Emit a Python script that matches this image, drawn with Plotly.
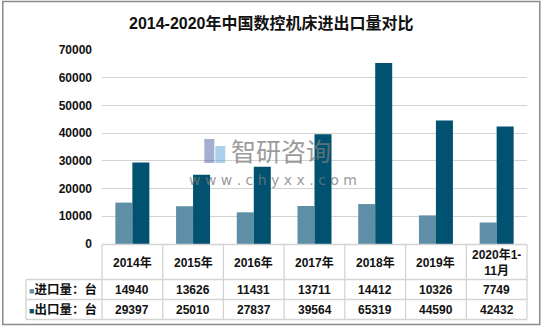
import plotly.graph_objects as go

# ---- data ----
categories = ["2014年", "2015年", "2016年", "2017年", "2018年", "2019年", "2020年1-<br>11月"]
import_units = [14940, 13626, 11431, 13711, 14412, 10326, 7749]
export_units = [29397, 25010, 27837, 39564, 65319, 44590, 42432]
series_names = ["进口量：台", "出口量：台"]
y_ticks = [0, 10000, 20000, 30000, 40000, 50000, 60000, 70000]

IMPORT_COLOR = "#5E8FA6"
EXPORT_COLOR = "#005270"
GRID = "#D3D3D3"
TEXT = "#111111"
FONT = "Liberation Sans, Arial, Noto Sans CJK SC, sans-serif"

W, H = 543, 329
L, R, T, B = 101.7, 526.7, 50, 244  # plot area in pixels


def px_x(p):
    return (p - L) / (R - L)


def px_y(p):
    return (B - p) / (B - T)


fig = go.Figure()
fig.add_trace(go.Bar(x=categories, y=import_units, name=series_names[0],
                     marker=dict(color=IMPORT_COLOR, line=dict(width=0))))
fig.add_trace(go.Bar(x=categories, y=export_units, name=series_names[1],
                     marker=dict(color=EXPORT_COLOR, line=dict(width=0))))

shapes = []
# outer frame
shapes.append(dict(type="rect", xref="paper", yref="paper",
                   x0=px_x(2.5), x1=px_x(539.5), y0=px_y(324.5), y1=px_y(1.5),
                   line=dict(color="#8A8A8A", width=1.5), layer="below"))

# data table grid
row_lines = [244.5, 279.5, 299.5, 319.5]
col_w = (R - L) / len(categories)
for i, yl in enumerate(row_lines):
    x_start = L if i == 0 else 25.7
    shapes.append(dict(type="line", xref="paper", yref="paper",
                       x0=px_x(x_start), x1=px_x(R), y0=px_y(yl), y1=px_y(yl),
                       line=dict(color=GRID, width=1.3)))
for k in range(len(categories) + 1):
    xv = L + k * col_w
    shapes.append(dict(type="line", xref="paper", yref="paper",
                       x0=px_x(xv), x1=px_x(xv), y0=px_y(row_lines[0]), y1=px_y(row_lines[-1]),
                       line=dict(color=GRID, width=1.3)))
shapes.append(dict(type="line", xref="paper", yref="paper",
                   x0=px_x(25.7), x1=px_x(25.7), y0=px_y(row_lines[1]), y1=px_y(row_lines[-1]),
                   line=dict(color=GRID, width=1.3)))

annotations = []
row_centers = [(row_lines[0] + row_lines[1]) / 2, (row_lines[1] + row_lines[2]) / 2,
               (row_lines[2] + row_lines[3]) / 2]


def cell(x, y, text, xref="x", xanchor="center", size=12):
    return dict(x=x, xref=xref, y=y, yref="paper", xanchor=xanchor, yanchor="middle",
                text=text, showarrow=False, font=dict(size=size, color=TEXT, family=FONT))


for c, iv, ev in zip(categories, import_units, export_units):
    annotations.append(cell(c, px_y(row_centers[0]), f"<b>{c}</b>"))
    annotations.append(cell(c, px_y(row_centers[1]), f"<b>{iv}</b>"))
    annotations.append(cell(c, px_y(row_centers[2]), f"<b>{ev}</b>"))

for name, color, yc in [(series_names[0], IMPORT_COLOR, row_centers[1]),
                        (series_names[1], EXPORT_COLOR, row_centers[2])]:
    annotations.append(cell(px_x(26.5), px_y(yc),
                            f"<span style='color:{color};font-size:9px'>■</span><b>{name}</b>",
                            xref="paper", xanchor="left", size=12.5))

# title
annotations.append(dict(x=px_x(271.5), xref="paper", y=px_y(23), yref="paper",
                        xanchor="center", yanchor="middle",
                        text="<b>2014-2020年中国数控机床进出口量对比</b>", showarrow=False,
                        font=dict(size=16, color=TEXT, family=FONT)))

# watermark
annotations.append(dict(x=px_x(229), xref="paper", y=px_y(150), yref="paper",
                        xanchor="left", yanchor="middle", text="智研咨询", showarrow=False,
                        opacity=0.75,
                        font=dict(size=25, color="#7A7A7A", family="Noto Sans CJK SC")))
annotations.append(dict(x=px_x(273), xref="paper", y=px_y(180), yref="paper",
                        xanchor="center", yanchor="middle",
                        text="w w w . c h y x x . c o m", showarrow=False, opacity=0.75,
                        font=dict(size=14, color="#7A7A7A", family="DejaVu Sans")))
shapes.append(dict(type="rect", xref="paper", yref="paper",
                   x0=px_x(204), x1=px_x(214), y0=px_y(163), y1=px_y(139),
                   line=dict(width=0), fillcolor="rgba(90,110,170,0.55)"))
shapes.append(dict(type="rect", xref="paper", yref="paper",
                   x0=px_x(215), x1=px_x(225), y0=px_y(163), y1=px_y(146),
                   line=dict(width=0), fillcolor="rgba(100,170,220,0.55)"))

fig.update_layout(
    width=W, height=H,
    margin=dict(l=L, r=W - R, t=T, b=H - B, pad=0),
    paper_bgcolor="white", plot_bgcolor="white",
    barmode="group", bargap=0.44, bargroupgap=0,
    showlegend=False,
    shapes=shapes, annotations=annotations,
    font=dict(family=FONT, color=TEXT),
    xaxis=dict(showticklabels=False, showgrid=False, zeroline=False, showline=False,
               ticks=""),
    yaxis=dict(range=[0, 70000], tickvals=y_ticks, ticktext=[f"<b>{v}</b>" for v in y_ticks],
               showgrid=True, gridcolor=GRID, gridwidth=1, zeroline=False, showline=False,
               ticks="", ticklabelstandoff=9,
               tickfont=dict(size=12, color=TEXT, family=FONT)),
)

fig.write_html("out.html")
